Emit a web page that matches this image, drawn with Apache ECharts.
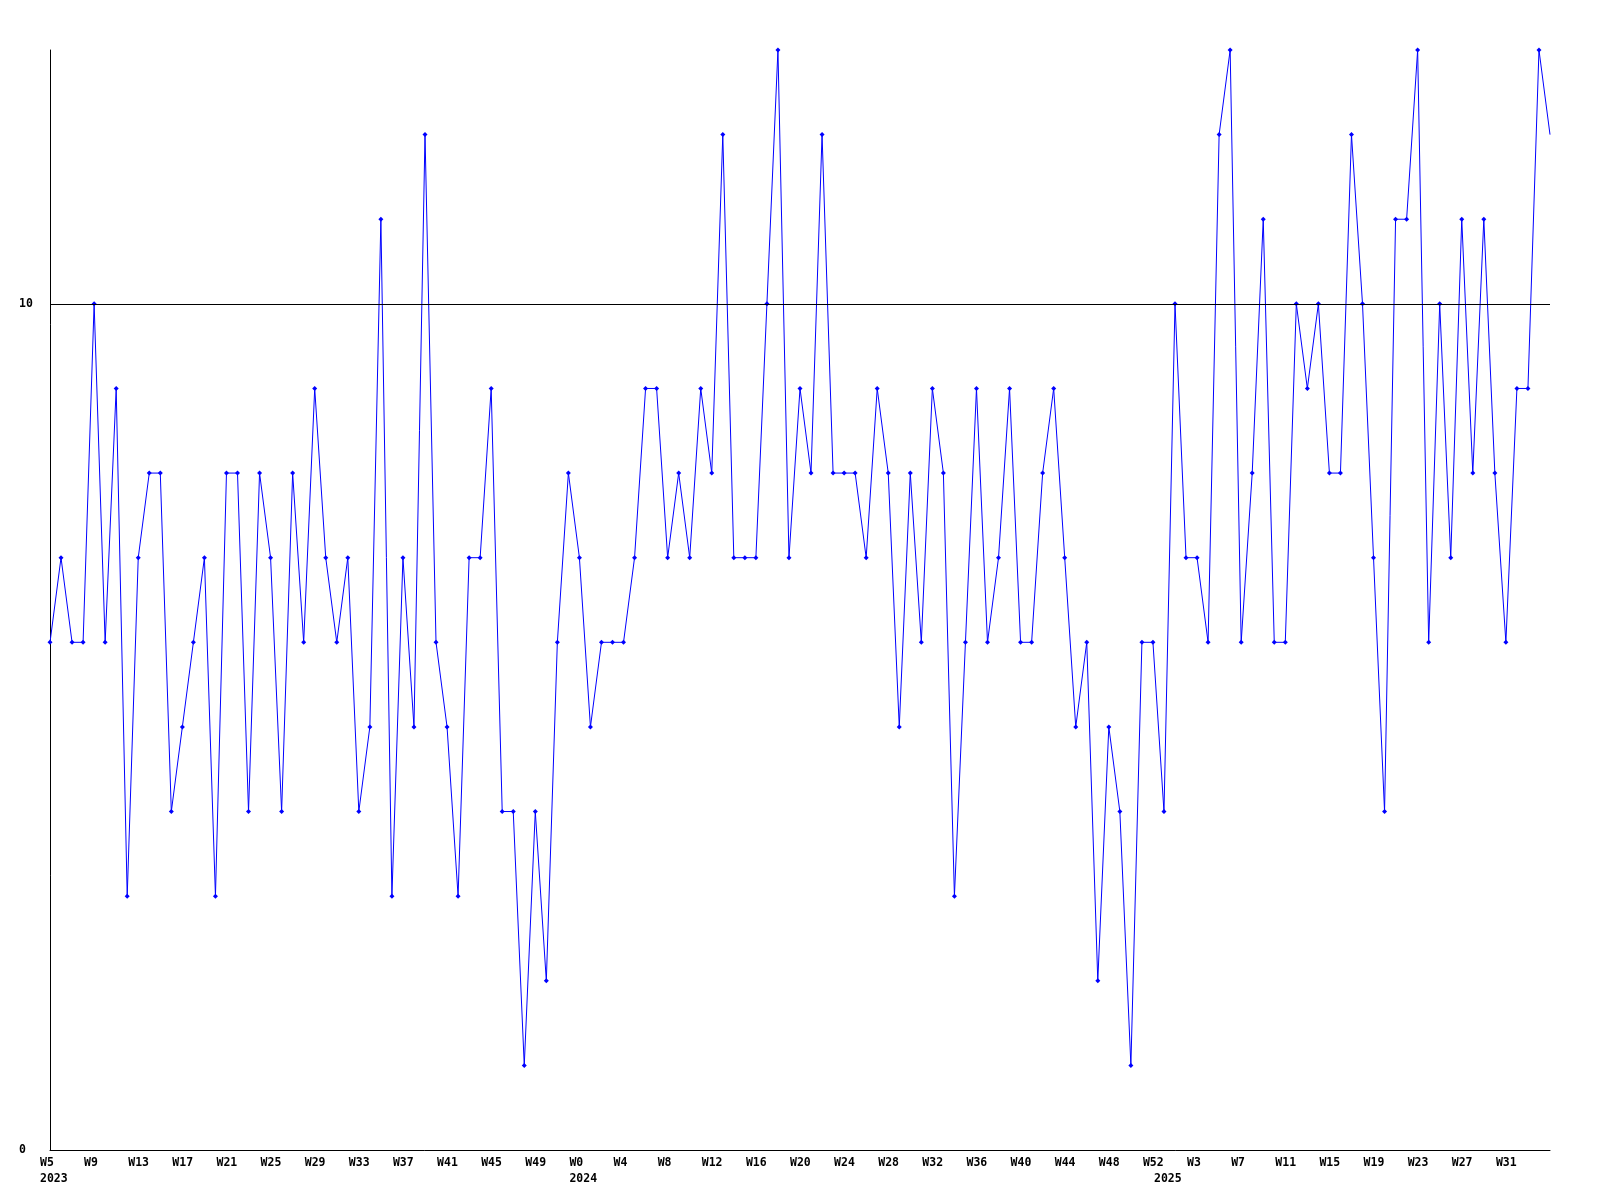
<!DOCTYPE html>
<html>
<head>
<meta charset="utf-8">
<script src="https://cdn.jsdelivr.net/npm/echarts@6/dist/echarts.min.js"></script>
<style>html,body{margin:0;padding:0;background:#fff}#c{width:1600px;height:1200px}</style>
</head>
<body>
<div id="c"></div>
<script>
// Weeks covered per year
const years = [2023, 2024, 2025];
const firstWeek = [5, 0, 0];
const lastWeek = [52, 52, 35];

// Series values (one per week)
const values = [
  6,7,6,6,10,6,9,3,7,8,
  8,4,5,6,7,3,8,8,4,8,
  7,4,8,6,9,7,6,7,4,5,
  11,3,7,5,12,6,5,3,7,7,
  9,4,4,1,4,2,6,8,7,5,
  6,6,6,7,9,9,7,8,7,9,
  8,12,7,7,7,10,13,7,9,8,
  12,8,8,8,7,9,8,5,8,6,
  9,8,3,6,9,6,7,9,6,6,
  8,9,7,5,6,2,5,4,1,6,
  6,4,10,7,7,6,12,13,6,8,
  11,6,6,10,9,10,8,8,12,10,
  7,4,11,11,13,6,10,7,11,8,
  11,8,6,9,9,13,12
];

// Y tick labels shown
const yTickLabels = [0, 10];
const refLineValue = 10;

// Build categories
const categories = [];
const weekOf = [];
const yearStart = [];
years.forEach((y, k) => {
  for (let w = firstWeek[k]; w <= lastWeek[k]; w++) {
    categories.push(y + '-W' + w);
    weekOf.push(w);
    yearStart.push(w === firstWeek[k] ? y : null);
  }
});

const font = { fontFamily: '"DejaVu Sans Mono", monospace', fontSize: 11.5, fontWeight: 'bold', color: '#000' };
const lastIdx = categories.length - 1;
const showWeek = (i) => i % 4 === 0 && i < lastIdx;
const showLabel = (i) => showWeek(i) || yearStart[i] !== null;

const chart = echarts.init(document.getElementById('c'), null, { renderer: 'canvas' });
chart.setOption({
  animation: false,
  backgroundColor: '#fff',
  grid: [
    { left: 50, right: 50, top: 50, bottom: 50, containLabel: false },
    { left: 40, right: 60, top: 50, bottom: 50, containLabel: false }
  ],
  xAxis: [
    {
      type: 'category', gridIndex: 0, data: categories, boundaryGap: false,
      axisLine: { show: true, onZero: false, lineStyle: { color: '#000', width: 1 } },
      axisTick: { show: false }, axisLabel: { show: false }, splitLine: { show: false }
    },
    {
      type: 'category', gridIndex: 1, data: categories, boundaryGap: false,
      axisLine: { show: false }, axisTick: { show: false }, splitLine: { show: false },
      axisLabel: Object.assign({
        show: true, align: 'left', margin: 5, lineHeight: 16,
        interval: (i) => showLabel(i),
        formatter: (v, i) => (showWeek(i) ? 'W' + weekOf[i] : '') + (yearStart[i] !== null ? '\n' + yearStart[i] : '')
      }, font)
    }
  ],
  yAxis: [
    {
      type: 'value', gridIndex: 0, min: 0, max: 13, interval: 10,
      axisLine: { show: true, lineStyle: { color: '#000', width: 1 } },
      axisTick: { show: false }, splitLine: { show: false },
      axisLabel: Object.assign({
        align: 'left', margin: 31,
        formatter: (v) => yTickLabels.indexOf(v) >= 0 ? String(v) : ''
      }, font)
    },
    { type: 'value', gridIndex: 1, show: false, min: 0, max: 13 }
  ],
  series: [{
    type: 'line',
    xAxisIndex: 0, yAxisIndex: 0,
    data: values.map((v, i) => i === lastIdx ? { value: v, symbol: 'none' } : v),
    symbol: 'diamond', symbolSize: 5,
    lineStyle: { color: '#0000ff', width: 1 },
    itemStyle: { color: '#0000ff' },
    markLine: {
      silent: true, symbol: 'none', label: { show: false },
      lineStyle: { color: '#000', width: 1, type: 'solid' },
      data: [{ yAxis: refLineValue }]
    },
    z: 3
  }]
});
</script>
</body>
</html>
